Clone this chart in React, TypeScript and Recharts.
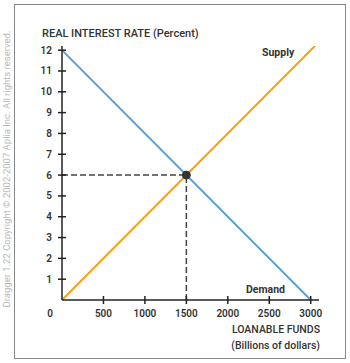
import { ComposedChart, Line, XAxis, YAxis, ReferenceLine, ReferenceDot } from 'recharts';

const supplyQuantity = [0, 3050];
const supplyRate = [0, 12.2];
const demandQuantity = [0, 3000];
const demandRate = [12, 0];
const equilibrium = { quantity: 1500, rate: 6 };
const xTicks = [0, 500, 1000, 1500, 2000, 2500, 3000];
const yTicks = [1, 2, 3, 4, 5, 6, 7, 8, 9, 10, 11, 12];

const supplyData = supplyQuantity.map((q, i) => ({ q, rate: supplyRate[i] }));
const demandData = demandQuantity.map((q, i) => ({ q, rate: demandRate[i] }));

const FONT = 'Roboto, "Noto Sans", sans-serif';
const INK = '#333';

const XTick = (props: any) => {
  const { x, y, payload } = props;
  if (payload.value === 0) {
    return (
      <text x={x - 12} y={y + 17} textAnchor="middle" fontSize={10} fontWeight={600} fill={INK} fontFamily={FONT}>
        0
      </text>
    );
  }
  return (
    <g>
      <line x1={x} x2={x} y1={y - 4} y2={y + 4} stroke="#222" strokeWidth={1.5} />
      <text x={x} y={y + 17} textAnchor="middle" fontSize={10} fontWeight={600} fill={INK} fontFamily={FONT}>
        {payload.value}
      </text>
    </g>
  );
};

const YTick = (props: any) => {
  const { x, y, payload } = props;
  return (
    <g>
      <line x1={x - 4} x2={x + 4} y1={y} y2={y} stroke="#222" strokeWidth={1.5} />
      <text x={x - 10} y={y + 3.5} textAnchor="end" fontSize={10} fontWeight={600} fill={INK} fontFamily={FONT}>
        {payload.value}
      </text>
    </g>
  );
};

const textStyle = (extra: any) => ({
  position: 'absolute' as const,
  fontFamily: FONT,
  color: INK,
  whiteSpace: 'nowrap' as const,
  lineHeight: 1,
  ...extra,
});

export default function App() {
  return (
    <div style={{ position: 'absolute', left: 0, top: 0, width: 350, height: 363, background: '#fff' }}>
      <div style={{ position: 'absolute', left: 14, top: 4, width: 330, height: 353, border: '1.5px solid #888' }} />
      <div
        style={textStyle({
          left: 7,
          top: 169,
          fontSize: 9.5,
          color: '#b8b8b8',
          transform: 'translate(-50%, -50%) rotate(-90deg)',
        })}
      >
        Dragger 1.22 Copyright © 2002-2007 Aplia Inc. All rights reserved.
      </div>
      <div style={textStyle({ left: 42, top: 28, fontSize: 11, fontWeight: 500 })}>REAL INTEREST RATE (Percent)</div>
      <div style={textStyle({ left: 262, top: 48, fontSize: 10.5, fontWeight: 700 })}>Supply</div>
      <div style={textStyle({ left: 246, top: 285, fontSize: 10.5, fontWeight: 700 })}>Demand</div>
      <div style={textStyle({ right: 30, top: 325, fontSize: 10.5, fontWeight: 500 })}>LOANABLE FUNDS</div>
      <div style={textStyle({ right: 30, top: 341, fontSize: 10.5, fontWeight: 500 })}>(Billions of dollars)</div>
      <div style={{ position: 'absolute', left: 0, top: 0 }}>
        <ComposedChart width={350} height={363} margin={{ top: 46, right: 31, bottom: 0, left: 0 }}>
          <XAxis
            type="number"
            dataKey="q"
            domain={[0, 3100]}
            ticks={xTicks}
            allowDataOverflow
            height={63}
            tickSize={0}
            tickMargin={0}
            tickLine={false}
            axisLine={{ stroke: '#222', strokeWidth: 1.5 }}
            tick={<XTick />}
            interval={0}
          />
          <YAxis
            type="number"
            dataKey="rate"
            domain={[0, 12.2]}
            ticks={yTicks}
            allowDataOverflow
            width={62}
            tickSize={0}
            tickMargin={0}
            tickLine={false}
            axisLine={{ stroke: '#222', strokeWidth: 1.5 }}
            tick={<YTick />}
            interval={0}
          />
          <ReferenceLine
            segment={[
              { x: 0, y: equilibrium.rate },
              { x: equilibrium.quantity, y: equilibrium.rate },
            ]}
            stroke="#444"
            strokeWidth={1.5}
            strokeDasharray="6 3"
          />
          <ReferenceLine
            segment={[
              { x: equilibrium.quantity, y: 0 },
              { x: equilibrium.quantity, y: equilibrium.rate },
            ]}
            stroke="#444"
            strokeWidth={1.5}
            strokeDasharray="6 3"
          />
          <Line
            data={demandData}
            dataKey="rate"
            type="linear"
            stroke="#5a9fd8"
            strokeWidth={2}
            dot={false}
            isAnimationActive={false}
          />
          <Line
            data={supplyData}
            dataKey="rate"
            type="linear"
            stroke="#fb9e16"
            strokeWidth={2}
            dot={false}
            isAnimationActive={false}
          />
          <ReferenceDot x={equilibrium.quantity} y={equilibrium.rate} r={4} fill="#333" stroke="#333" />
        </ComposedChart>
      </div>
    </div>
  );
}
